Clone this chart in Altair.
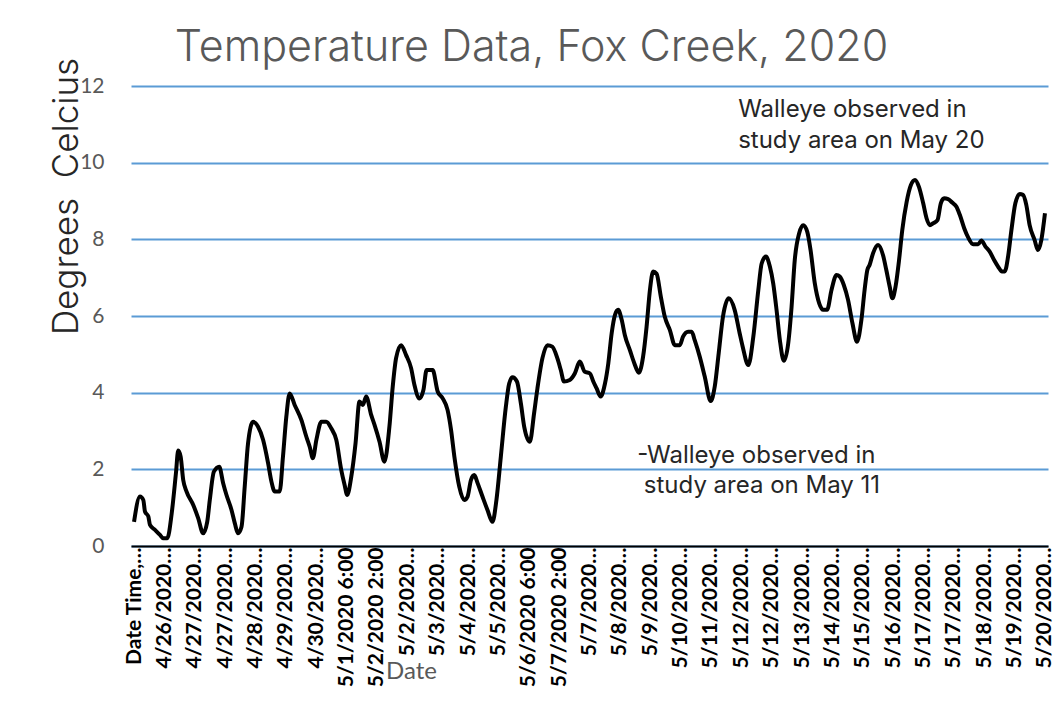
import json
import altair as alt
import pandas as pd

# Hour index (hourly logger readings, 20 readings between axis labels) and temperature (deg C)
hours = [
    0, 3.9, 6.1, 7.2, 9.4, 10.5, 13.8, 17.1, 19.3, 21.9,
    24.8, 27.6, 29.1, 30.7, 32.4, 34.6, 39.0, 42.3, 45.5, 48.2,
    49.9, 52.6, 56.1, 58.7, 60.9, 64.2, 66.4, 68.5, 70.8, 72.9,
    75.1, 78.4, 81.7, 85.0, 88.3, 90.5, 92.7, 95.9, 98.1, 100.3,
    102.5, 105.8, 110.2, 113.5, 115.7, 117.8, 120.1, 123.4, 126.6, 129.9,
    133.2, 136.5, 138.7, 140.4, 143.1, 145.9, 148.5, 150.7, 152.9, 156.2,
    158.4, 161.7, 164.9, 168.2, 170.4, 172.6, 175.9, 179.2, 182.5, 184.7,
    188.0, 190.6, 192.7, 196.7, 200.0, 203.3, 206.5, 208.8, 211.0, 214.2,
    217.5, 219.7, 221.9, 224.1, 226.3, 229.5, 232.8, 236.1, 238.7, 241.6,
    244.9, 247.1, 249.3, 252.2, 254.8, 257.0, 260.7, 263.5, 265.7, 269.0,
    272.3, 275.5, 278.8, 281.1, 283.2, 287.0, 290.3, 293.6, 296.8, 300.3,
    302.5, 304.7, 307.3, 310.2, 312.4, 314.6, 316.8, 318.9, 321.2, 323.3,
    326.6, 329.5, 332.5, 335.3, 337.6, 339.8, 341.9, 344.2, 347.0, 349.6,
    352.9, 356.2, 359.5, 361.6, 364.9, 367.3, 369.3, 372.6, 375.9, 379.8,
    382.5, 385.1, 387.9, 391.7, 395.6, 398.9, 400.9, 404.6, 407.9, 411.2,
    413.4, 416.2, 418.8, 421.0, 423.2, 425.4, 428.0, 430.9, 433.1, 435.2,
    438.1, 440.8, 443.4, 445.6, 448.4, 451.3, 453.9, 456.5, 459.4, 462.7,
    464.8, 467.5, 470.3, 473.2, 476.2, 479.1, 481.2, 483.0, 484.5, 486.8,
    490.1, 493.3, 495.5, 497.7, 499.5, 501.6, 503.9, 506.0, 508.9, 511.7,
    514.4, 517.0, 519.8, 522.0, 524.2, 526.4, 529.2, 531.4, 533.6, 536.2,
    538.9, 541.7, 543.9, 546.8, 549.4, 552.7, 556.0, 558.1, 560.8, 563.6,
    566.5, 569.1, 571.7, 573.5, 575.7, 577.9, 580.5, 583.4, 585.5, 587.7,
    589.9, 593.2, 595.4, 597.6, 600,
]
temps = [
    0.63, 1.29, 1.2, 0.9, 0.77, 0.55, 0.42, 0.29, 0.2, 0.2,
    0.85, 1.9, 2.49, 2.33, 1.72, 1.42, 1.07, 0.72, 0.33, 0.63,
    1.2, 1.94, 2.07, 1.64, 1.33, 0.94, 0.59, 0.33, 0.5, 1.55,
    2.68, 3.24, 3.11, 2.77, 2.16, 1.68, 1.42, 1.42, 2.33, 3.37,
    3.98, 3.68, 3.29, 2.85, 2.59, 2.29, 2.77, 3.24, 3.24, 3.07,
    2.77, 1.98, 1.59, 1.33, 1.81, 2.68, 3.77, 3.68, 3.9, 3.42,
    3.16, 2.72, 2.2, 3.11, 4.16, 4.9, 5.24, 4.98, 4.64, 4.2,
    3.85, 4.07, 4.59, 4.59, 4.03, 3.85, 3.55, 3.03, 2.33, 1.55,
    1.2, 1.29, 1.72, 1.85, 1.64, 1.29, 0.94, 0.63, 1.2, 2.33,
    3.63, 4.24, 4.4, 4.29, 3.72, 3.11, 2.72, 3.46, 4.11, 4.9,
    5.24, 5.2, 4.9, 4.59, 4.29, 4.33, 4.5, 4.81, 4.55, 4.5,
    4.29, 4.11, 3.9, 4.24, 4.77, 5.55, 6.03, 6.16, 5.9, 5.5,
    5.11, 4.77, 4.52, 4.94, 5.72, 6.68, 7.16, 7.1, 6.5, 5.98,
    5.64, 5.24, 5.24, 5.46, 5.59, 5.59, 5.37, 4.94, 4.42, 3.78,
    4.16, 5.03, 5.98, 6.46, 6.16, 5.55, 5.2, 4.72, 5.46, 6.68,
    7.37, 7.55, 7.29, 6.85, 6.16, 5.37, 4.83, 5.29, 6.24, 7.46,
    8.16, 8.37, 8.2, 7.72, 6.85, 6.33, 6.16, 6.16, 6.68, 7.07,
    7.03, 6.81, 6.42, 5.81, 5.33, 5.9, 6.68, 7.2, 7.33, 7.64,
    7.85, 7.59, 7.2, 6.77, 6.46, 6.77, 7.46, 8.24, 8.98, 9.42,
    9.55, 9.37, 8.94, 8.55, 8.37, 8.42, 8.5, 8.94, 9.07, 9.05,
    8.96, 8.85, 8.64, 8.29, 8.05, 7.87, 7.87, 7.97, 7.81, 7.68,
    7.46, 7.29, 7.16, 7.16, 7.55, 8.24, 8.94, 9.18, 9.16, 8.9,
    8.37, 7.98, 7.72, 7.98, 8.68,
]
assert len(hours) == len(temps)

x_labels = [
    "Date Time,…", "4/26/2020…", "4/27/2020…", "4/27/2020…", "4/28/2020…",
    "4/29/2020…", "4/30/2020…", "5/1/2020 6:00", "5/2/2020 2:00", "5/2/2020…",
    "5/3/2020…", "5/4/2020…", "5/5/2020…", "5/6/2020 6:00", "5/7/2020 2:00",
    "5/7/2020…", "5/8/2020…", "5/9/2020…", "5/10/2020…", "5/11/2020…",
    "5/12/2020…", "5/12/2020…", "5/13/2020…", "5/14/2020…", "5/15/2020…",
    "5/16/2020…", "5/17/2020…", "5/17/2020…", "5/18/2020…", "5/19/2020…",
    "5/20/2020…",
]
label_step = 20
y_ticks = [0, 2, 4, 6, 8, 10, 12]

note_text = ["Walleye observed in", "study area on May 20",
             "-Walleye observed in", "study area on May 11"]
note_hour = [397.9, 397.9, 331.4, 335.8]
note_temp = [11.18, 10.37, 2.16, 1.37]

df = pd.DataFrame({"hour": hours, "temp": temps})
notes = pd.DataFrame({"text": note_text, "hour": note_hour, "temp": note_temp})

tick_hours = [i * label_step for i in range(len(x_labels))]
label_expr = json.dumps(x_labels, ensure_ascii=False) + f"[round(datum.value / {label_step})]"

xscale = alt.Scale(domain=[-2, 602], nice=False, zero=False)
yscale = alt.Scale(domain=[0, 12], nice=False)

x_axis = alt.Axis(
    values=tick_hours, tickCount=len(tick_hours) + 5, labelExpr=label_expr, labelAngle=-90,
    labelFont="Lato", labelFontWeight="bold", labelFontSize=21, labelColor="black",
    labelPadding=1, labelOverlap=False, labelBound=False, labelFlush=False, labelLimit=300,
    ticks=False, grid=False, domainColor="black", domainWidth=2,
    title="Date", titleFont="Lato", titleFontSize=24, titleFontWeight="normal",
    titleColor="#595959", titleX=280, titleY=132, titleAlign="center",
    titleBaseline="alphabetic",
)
y_axis = alt.Axis(
    values=y_ticks, labelFont="Lato", labelFontSize=21, labelColor="#595959",
    labelPadding=27, ticks=False, domain=False, grid=True, gridColor="#5B9BD5",
    gridWidth=2,
    title="Degrees \u00a0Celcius", titleFont="Inter", titleFontSize=35,
    titleFontWeight=300, titleColor="#262626", titleAngle=-90, titleX=-54, titleY=110,
    titleAlign="center", titleBaseline="alphabetic",
)

line = alt.Chart(df).mark_line(
    color="black", strokeWidth=4, interpolate="monotone"
).encode(
    x=alt.X("hour:Q", scale=xscale, axis=x_axis),
    y=alt.Y("temp:Q", scale=yscale, axis=y_axis),
)

text = alt.Chart(notes).mark_text(
    align="left", baseline="alphabetic", font="Inter", fontSize=24, color="#262626"
).encode(
    x=alt.X("hour:Q", scale=xscale),
    y=alt.Y("temp:Q", scale=yscale),
    text="text:N",
)

chart = alt.layer(line, text).properties(
    width=917,
    height=460,
    title=alt.TitleParams(
        "Temperature Data, Fox Creek, 2020", font="Inter", fontSize=43,
        fontWeight=300, color="#595959", anchor="middle", frame="group",
        dx=-58, offset=-47, baseline="alphabetic",
    ),
    autosize=alt.AutoSizeParams(type="none"),
    padding={"left": 123, "top": 78, "right": 6, "bottom": 152},
).configure_view(stroke=None).configure_axisX(labelOverlap=False)

chart.save("out.html", embed_options={"renderer": "svg", "actions": False})
